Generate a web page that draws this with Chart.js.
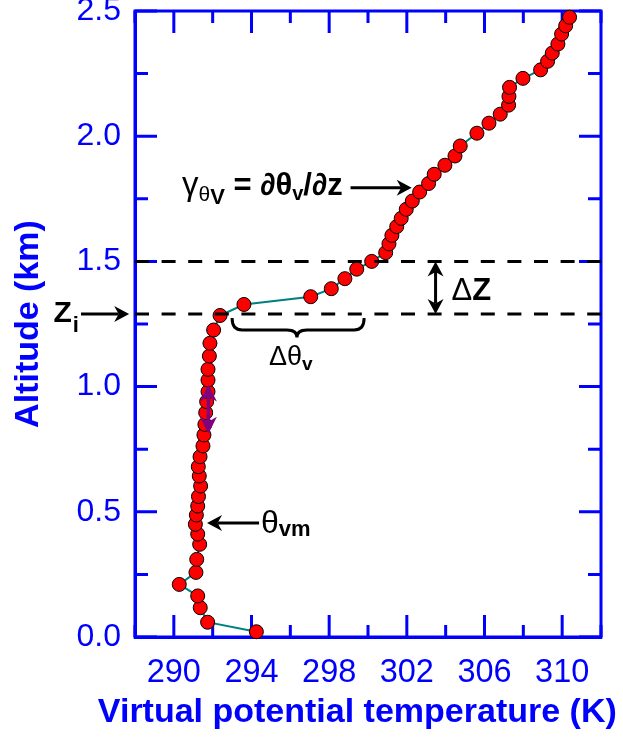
<!DOCTYPE html>
<html><head><meta charset="utf-8">
<script src="https://cdn.jsdelivr.net/npm/chart.js@4.4.1/dist/chart.umd.min.js"></script>
<style>html,body{margin:0;padding:0;background:#fff;}canvas{display:block;}</style>
</head><body>
<canvas id="c" width="623" height="738"></canvas>
<script>
// ---- data ----
const altitudes = [0.021,0.059,0.117,0.164,0.210,0.258,0.310,0.370,0.411,0.450,0.487,0.523,0.561,0.603,0.643,0.680,0.720,0.763,0.807,0.849,0.896,0.940,0.980,1.026,1.069,1.122,1.173,1.226,1.284,1.328,1.359,1.391,1.431,1.469,1.500,1.535,1.570,1.604,1.639,1.672,1.708,1.741,1.777,1.811,1.848,1.884,1.921,1.961,2.012,2.052,2.088,2.124,2.159,2.195,2.231,2.265,2.299,2.332,2.368,2.408,2.441,2.475];
const temperatures = [294.25,291.74,291.36,291.23,290.28,291.14,291.18,291.33,291.23,291.11,291.16,291.23,291.27,291.38,291.31,291.26,291.35,291.50,291.55,291.60,291.64,291.69,291.76,291.76,291.76,291.83,291.86,292.05,292.38,293.61,297.05,298.11,298.81,299.42,300.19,300.91,301.08,301.23,301.48,301.71,301.97,302.28,302.66,303.12,303.41,303.96,304.48,304.75,305.61,306.23,306.81,307.24,307.26,307.29,307.98,308.89,309.25,309.49,309.78,309.97,310.18,310.38];
const xTickValues = [288,290,292,294,296,298,300,302,304,306,308,310,312];
const xTickLabels = [290,294,298,302,306,310];
const yTickValues = [0,0.25,0.5,0.75,1.0,1.25,1.5,1.75,2.0,2.25,2.5];
const yTickLabels = [0,0.5,1.0,1.5,2.0,2.5];
const mixedLayerTop = 1.29;   // Zi
const entrainmentTop = 1.5;
const xTitle = 'Virtual potential temperature (K)';
const yTitle = 'Altitude (km)';

const FONT = "'Liberation Sans', Arial, Helvetica, sans-serif";
const BLUE = '#0000ff';

function font(size, bold){ return (bold?'bold ':'') + size + 'px ' + FONT; }
function rich(ctx, x, y, parts){
  let cx = x;
  ctx.textAlign='left'; ctx.textBaseline='alphabetic';
  for (const p of parts){
    ctx.font = font(p.size, p.bold);
    ctx.fillStyle = p.color || '#000';
    ctx.fillText(p.t, cx + (p.dx||0), y + (p.dy||0));
    cx += ctx.measureText(p.t).width + (p.dx||0);
  }
}
function head(ctx, x, y, ang, len, hw){
  ctx.save(); ctx.translate(x,y); ctx.rotate(ang);
  ctx.beginPath(); ctx.moveTo(0,0); ctx.lineTo(-len,-hw); ctx.lineTo(-len*0.7,0); ctx.lineTo(-len,hw); ctx.closePath(); ctx.fill();
  ctx.restore();
}
function arrow(ctx, x1,y1,x2,y2,color,lw,both,len,hw){
  len = len||15; hw = hw||8;
  const ang = Math.atan2(y2-y1,x2-x1);
  ctx.strokeStyle=color; ctx.fillStyle=color; ctx.lineWidth=lw;
  const sx = both ? x1 + Math.cos(ang)*len*0.7 : x1, sy = both ? y1 + Math.sin(ang)*len*0.7 : y1;
  ctx.beginPath(); ctx.moveTo(sx,sy); ctx.lineTo(x2-Math.cos(ang)*len*0.7, y2-Math.sin(ang)*len*0.7); ctx.stroke();
  head(ctx,x2,y2,ang,len,hw);
  if (both) head(ctx,x1,y1,ang+Math.PI,len,hw);
}

const framePlugin = {
  id:'frame',
  beforeDatasetsDraw(chart){
    const {ctx, chartArea:a, scales:{x,y}} = chart;
    ctx.save();
    ctx.strokeStyle=BLUE; ctx.lineWidth=3;
    ctx.beginPath();
    for (const v of xTickValues){
      const px = x.getPixelForValue(v); const L = xTickLabels.includes(v)?22:12;
      ctx.moveTo(px,a.bottom); ctx.lineTo(px,a.bottom-L);
      ctx.moveTo(px,a.top); ctx.lineTo(px,a.top+L);
    }
    for (const v of yTickValues){
      const py = y.getPixelForValue(v); const L = yTickLabels.includes(v)?22:13;
      ctx.moveTo(a.left,py); ctx.lineTo(a.left+L,py);
      ctx.moveTo(a.right,py); ctx.lineTo(a.right-L,py);
    }
    ctx.stroke();
    ctx.strokeRect(a.left,a.top,a.right-a.left,a.bottom-a.top);
    ctx.restore();
  },
  afterDatasetsDraw(chart){
    const {ctx, chartArea:a, scales:{x,y}} = chart;
    const X = v=>x.getPixelForValue(v), Y = v=>y.getPixelForValue(v);
    ctx.save();
    // x axis title (drawn without width compression)
    ctx.font = font(34,true); ctx.fillStyle=BLUE; ctx.textAlign='center'; ctx.textBaseline='alphabetic';
    ctx.fillText(xTitle, X(299.45), 722);
    // dashed lines
    ctx.strokeStyle='#000'; ctx.lineWidth=3; ctx.setLineDash([14,12.6]);
    for (const h of [entrainmentTop, mixedLayerTop]){
      ctx.beginPath(); ctx.moveTo(a.left,Y(h)); ctx.lineTo(a.right,Y(h)); ctx.stroke();
    }
    ctx.setLineDash([]);
    // delta Z
    arrow(ctx, X(303.48), Y(entrainmentTop), X(303.48), Y(mixedLayerTop), '#000', 3, true);
    rich(ctx, X(304.3), Y(1.346), [{t:'\u0394',size:31},{t:'Z',size:31,bold:true}]);
    // Zi
    arrow(ctx, X(285.22), Y(mixedLayerTop), X(287.7), Y(mixedLayerTop), '#000', 3, false);
    rich(ctx, X(283.8), Y(1.258), [{t:'Z',size:30,bold:true},{t:'i',size:22,bold:true,dy:10,dx:1}]);
    // gamma label
    rich(ctx, X(290.42), Y(1.765), [
      {t:'\u03b3',size:33},{t:'\u03b8',size:21,dy:6},{t:'V',size:22,bold:true,dy:9},
      {t:' = ',size:31,bold:true},{t:'\u2202\u03b8',size:31,bold:true},{t:'v',size:20,bold:true,dy:5},{t:'/\u2202',size:31,bold:true},{t:'z',size:31,bold:true}
    ]);
    arrow(ctx, X(299.1), Y(1.794), X(302.25), Y(1.794), '#000', 3, false);
    // theta vm
    arrow(ctx, X(294.39), Y(0.455), X(291.71), Y(0.455), '#000', 3, false);
    rich(ctx, X(294.49), Y(0.415), [{t:'\u03b8',size:32},{t:'vm',size:22,bold:true,dy:3}]);
    // brace
    const bx1=X(293.0), bx2=X(299.8), bc=X(296.34), bt=Y(1.274), bm=Y(1.226), btip=Y(1.196), r=10;
    ctx.lineWidth=3; ctx.strokeStyle='#000';
    ctx.beginPath();
    ctx.moveTo(bx1,bt); ctx.quadraticCurveTo(bx1,bm,bx1+r,bm); ctx.lineTo(bc-r,bm); ctx.quadraticCurveTo(bc,bm,bc,btip);
    ctx.quadraticCurveTo(bc,bm,bc+r,bm); ctx.lineTo(bx2-r,bm); ctx.quadraticCurveTo(bx2,bm,bx2,bt);
    ctx.stroke();
    rich(ctx, X(294.9), Y(1.086), [{t:'\u0394\u03b8',size:27},{t:'v',size:19,bold:true,dy:5}]);
    // purple arrow
    arrow(ctx, X(291.78), Y(1.008), X(291.78), Y(0.812), '#800080', 3.5, true, 17, 8.5);
    ctx.restore();
  }
};

new Chart(document.getElementById('c'), {
  type:'scatter',
  data:{datasets:[{
    data: temperatures.map((t,i)=>({x:t,y:altitudes[i]})),
    showLine:true, borderColor:'#008080', borderWidth:2,
    pointBackgroundColor:'#ff0000', pointBorderColor:'#000', pointBorderWidth:1, pointRadius:7,
    tension:0, clip:false
  }]},
  options:{
    responsive:false, animation:false, devicePixelRatio:1,
    layout:{padding:{left:0,right:22,top:11,bottom:0}},
    plugins:{legend:{display:false}, tooltip:{enabled:false}},
    scales:{
      x:{type:'linear', position:'bottom', min:288, max:312,
        afterBuildTicks:s=>{s.ticks = xTickValues.map(v=>({value:v}));},
        afterFit:s=>{s.height=101; s.paddingLeft=0; s.paddingRight=0;},
        ticks:{autoSkip:false, maxRotation:0, padding:17, color:BLUE, font:{family:FONT,size:32.5},
          callback:v=> xTickLabels.includes(v) ? String(v) : ''},
        grid:{display:false, drawTicks:false},
        border:{display:true,color:BLUE,width:3},
        title:{display:false}
      },
      y:{type:'linear', position:'left', min:0, max:2.5,
        afterBuildTicks:s=>{s.ticks = yTickValues.map(v=>({value:v}));},
        afterFit:s=>{s.width=135; s.paddingTop=0; s.paddingBottom=0;},
        ticks:{autoSkip:false, padding:14, color:BLUE, font:{family:FONT,size:32},
          callback:v=> yTickLabels.includes(v) ? v.toFixed(1) : ''},
        grid:{display:false, drawTicks:false},
        border:{display:true,color:BLUE,width:3},
        title:{display:true, text:yTitle, color:BLUE, font:{family:FONT,size:34,weight:'bold'}, padding:{top:8,bottom:0}}
      }
    }
  },
  plugins:[framePlugin]
});
</script>
</body></html>
